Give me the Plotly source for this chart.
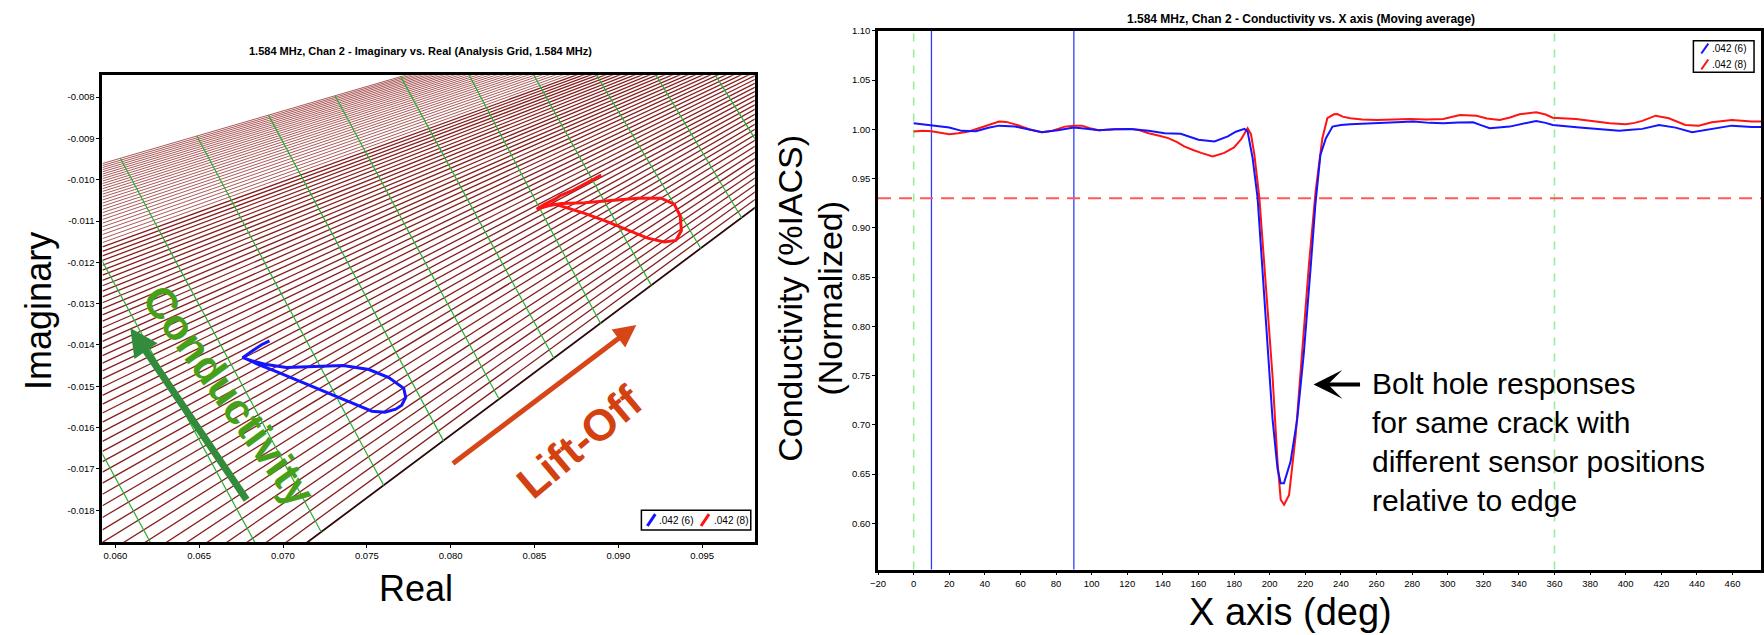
import plotly.graph_objects as go

W, H = 1764, 635

# ---------------- data ----------------
left_xticks = [0.060, 0.065, 0.070, 0.075, 0.080, 0.085, 0.090, 0.095]
left_xlabels = ["0.060", "0.065", "0.070", "0.075", "0.080", "0.085", "0.090", "0.095"]
left_yticks = [-0.008, -0.009, -0.010, -0.011, -0.012, -0.013, -0.014, -0.015, -0.016, -0.017, -0.018]
left_ylabels = ["-0.008", "-0.009", "-0.010", "-0.011", "-0.012", "-0.013", "-0.014", "-0.015",
                "-0.016", "-0.017", "-0.018"]

right_xticks = [-20, 0, 20, 40, 60, 80, 100, 120, 140, 160, 180, 200, 220, 240, 260, 280, 300,
                320, 340, 360, 380, 400, 420, 440, 460]
right_yticks = [0.55, 0.60, 0.65, 0.70, 0.75, 0.80, 0.85, 0.90, 0.95, 1.00, 1.05, 1.10]
right_ylabels = ["0.55", "0.60", "0.65", "0.70", "0.75", "0.80", "0.85", "0.90", "0.95", "1.00",
                 "1.05", "1.10"]

# analysis grid: conductivity lines (imag value at left edge), all meeting at the grid focus
grid_left_real = 0.05923
grid_focus_real = 0.12880
grid_focus_imag = -0.001381
cond_line_imag_dense = [
    -0.009607, -0.009655, -0.009704, -0.009755, -0.009807, -0.009861, -0.009916, -0.009973,
    -0.010031, -0.010092, -0.010153, -0.010217, -0.010283, -0.010350, -0.010417, -0.010490,
    -0.010564, -0.010639, -0.010717, -0.010797, -0.010879, -0.010961, -0.011050, -0.011139,
    -0.011232, -0.011326, -0.011424, -0.011521,
]
cond_line_imag = [
    -0.011627, -0.011733, -0.011842, -0.011952,
    -0.012070, -0.012187, -0.012309, -0.012437, -0.012566, -0.012698, -0.012836, -0.012977,
    -0.013120, -0.013271, -0.013424, -0.013583, -0.013743, -0.013912, -0.014083, -0.014259,
    -0.014441, -0.014627, -0.014820, -0.015018, -0.015222, -0.015431, -0.015647, -0.015869,
    -0.016098, -0.016332, -0.016574, -0.016823, -0.017079, -0.017343, -0.017613, -0.017892,
    -0.018178, -0.018476, -0.018777, -0.019103, -0.019439, -0.019787, -0.020134, -0.020494,
    -0.020854, -0.021237, -0.021621, -0.022029,
]
cond_boundary_imag = -0.022484

# lift-off lines (start / end points)
liftoff_real_a = [0.057153, 0.056489, 0.060297, 0.064864, 0.069134, 0.073108, 0.077023, 0.080605,
                  0.083897, 0.087005, 0.090030, 0.092960]
liftoff_imag_a = [-0.015086, -0.009930, -0.009480, -0.008940, -0.008436, -0.007966, -0.007504,
                  -0.007082, -0.006691, -0.006324, -0.005966, -0.005628]
liftoff_real_b = [0.063084, 0.069229, 0.072278, 0.076014, 0.079573, 0.082894, 0.086157, 0.088944,
                  0.091969, 0.094935, 0.097367, 0.099917]
liftoff_imag_b = [-0.019523, -0.019458, -0.018528, -0.017400, -0.016321, -0.015314, -0.014321,
                  -0.013482, -0.012556, -0.011669, -0.010926, -0.010153]

# impedance-plane traces
blue_real = [0.069193, 0.068719, 0.068185, 0.067592, 0.068126, 0.069015, 0.070202, 0.071566,
             0.073582, 0.075125, 0.076311, 0.077200, 0.077319, 0.077082, 0.076726, 0.076074,
             0.075302, 0.073998, 0.072159, 0.070795, 0.069609, 0.068541, 0.067889, 0.067651]
blue_imag = [-0.013899, -0.013995, -0.014139, -0.014307, -0.014379, -0.014475, -0.014547, -0.014523,
             -0.014499, -0.014595, -0.014787, -0.015050, -0.015266, -0.015458, -0.015554, -0.015626,
             -0.015602, -0.015386, -0.015074, -0.014835, -0.014643, -0.014475, -0.014355, -0.014307]
red_real = [0.088986, 0.087995, 0.087206, 0.086512, 0.086216, 0.085623, 0.085130, 0.085819,
            0.086613, 0.087995, 0.089579, 0.091157, 0.092544, 0.093333, 0.093689, 0.093766,
            0.093434, 0.092740, 0.091750, 0.090563, 0.089181, 0.087995, 0.087005, 0.086216, 0.085623]
red_imag = [-0.009887, -0.010110, -0.010271, -0.010391, -0.010470, -0.010590, -0.010710, -0.010631,
            -0.010573, -0.010559, -0.010511, -0.010446, -0.010446, -0.010590, -0.010870, -0.011230,
            -0.011470, -0.011508, -0.011412, -0.011213, -0.010990, -0.010813, -0.010686, -0.010590,
            -0.010655]

# conductivity vs angle
blue_deg = [0, 5, 10, 20, 27, 35, 42, 48, 57, 65, 72, 81, 90, 97, 104, 113, 122, 132, 141, 150, 155,
            160, 169, 176.5, 181, 185.8, 187.6, 190.4, 193.2, 196, 198.8, 201.6, 204.4, 206.2, 208,
            211.7, 215.5, 219.2, 222.9, 225.7, 228.5, 231.6, 235.3, 240, 245.3, 260.2, 270, 280.7,
            290, 297.5, 306, 314.3, 319, 323.6, 334.8, 343, 349.7, 355, 359, 374, 385.2, 396.4,
            403, 409.3, 418.7, 428, 437.3, 444.8, 452, 459.6, 470.8, 476]
blue_cond = [1.0061, 1.0050, 1.0035, 1.0017, 0.9984, 0.9980, 1.0015, 1.0037, 1.0027, 0.9995,
             0.9970, 0.9990, 1.0017, 1.0005, 0.9990, 1.0000, 1.0004, 0.9984, 0.9960, 0.9955,
             0.9925, 0.9893, 0.9877, 0.9927, 0.9975, 1.0004, 0.9977, 0.9710, 0.9307, 0.8570,
             0.7730, 0.7060, 0.6556, 0.6406, 0.6406, 0.6624, 0.7060, 0.7730, 0.8570, 0.9240,
             0.9740, 0.9910, 1.0027, 1.0044, 1.0051, 1.0061, 1.0070, 1.0078, 1.0065, 1.0061,
             1.0068, 1.0071, 1.0040, 1.0011, 1.0027, 1.0060, 1.0085, 1.0065, 1.0044, 1.0017,
             1.0004, 0.9984, 0.9995, 1.0004, 1.0044, 1.0017, 0.9970, 0.9990, 1.0015, 1.0037,
             1.0024, 1.0024]
red_deg = [0, 5, 10, 15, 20, 25, 31, 40, 48, 52, 57, 65, 72, 78, 85, 90, 94.5, 99, 104, 113, 122,
           127, 132, 138, 143, 148, 152, 157, 161.5, 168, 174.5, 180, 184, 187.6, 189.5, 191.4,
           194.2, 197.9, 201.6, 204.4, 206.2, 208.1, 210.9, 214.6, 218.4, 222.1, 225.8, 229.6,
           232.4, 236.1, 238, 241, 245.3, 252, 260.2, 270, 278.8, 288, 297.5, 306.9, 316.2, 322,
           329.2, 335, 340.4, 349.7, 355, 359, 365, 372, 381, 391, 400, 405, 409.3, 416.8, 424.2,
           433.5, 441, 448.4, 459.6, 470.8, 476]
red_cond = [0.9977, 0.9985, 0.9980, 0.9965, 0.9950, 0.9960, 0.9977, 1.0030, 1.0078, 1.0075,
            1.0050, 1.0000, 0.9970, 0.9985, 1.0027, 1.0035, 1.0037, 1.0010, 0.9990, 1.0000,
            1.0004, 0.9990, 0.9960, 0.9935, 0.9910, 0.9870, 0.9826, 0.9790, 0.9760, 0.9725,
            0.9760, 0.9816, 0.9900, 1.0010, 0.9950, 0.9742, 0.9307, 0.8400, 0.7496, 0.6624,
            0.6240, 0.6188, 0.6289, 0.6892, 0.7798, 0.8636, 0.9370, 0.9910, 1.0112, 1.0152,
            1.0155, 1.0128, 1.0112, 1.0100, 1.0095, 1.0100, 1.0105, 1.0100, 1.0105, 1.0145,
            1.0138, 1.0110, 1.0095, 1.0120, 1.0152, 1.0172, 1.0150, 1.0118, 1.0110, 1.0105,
            1.0085, 1.0061, 1.0051, 1.0065, 1.0085, 1.0138, 1.0112, 1.0044, 1.0037, 1.0071,
            1.0095, 1.0078, 1.0078]

green_marker_deg = [0, 360]
blue_marker_deg = [10, 90]
threshold_cond = 0.93

legend_names = [".042 (6)", ".042 (8)"]

# ---------------- figure ----------------
FONT = "Liberation Sans, Arial, sans-serif"


def px(x):
    return x / W


def py(y):
    return 1 - y / H


fig = go.Figure()


def grid_trace(values, color, width):
    gx, gy = [], []
    for v in values:
        gx += [grid_left_real, grid_focus_real, None]
        gy += [v, grid_focus_imag, None]
    return go.Scatter(x=gx, y=gy, mode="lines", line=dict(color=color, width=width),
                      hoverinfo="skip", xaxis="x", yaxis="y")


# conductivity grid lines
fig.add_trace(grid_trace(cond_line_imag_dense, "rgb(150,45,45)", 0.8))
fig.add_trace(grid_trace(cond_line_imag, "rgb(135,30,30)", 1.3))
fig.add_trace(go.Scatter(x=[grid_left_real, grid_focus_real], y=[cond_boundary_imag, grid_focus_imag],
                         mode="lines", line=dict(color="rgb(45,8,8)", width=1.8),
                         hoverinfo="skip", xaxis="x", yaxis="y"))
# lift-off lines
lx, ly = [], []
for a, b, c, d in zip(liftoff_real_a, liftoff_imag_a, liftoff_real_b, liftoff_imag_b):
    lx += [a, c, None]
    ly += [b, d, None]
fig.add_trace(go.Scatter(x=lx, y=ly, mode="lines", line=dict(color="rgb(40,175,50)", width=1.2),
                         hoverinfo="skip", xaxis="x", yaxis="y"))
# loops
fig.add_trace(go.Scatter(x=blue_real, y=blue_imag, mode="lines", name=legend_names[0],
                         line=dict(color="rgb(20,20,255)", width=3), xaxis="x", yaxis="y"))
fig.add_trace(go.Scatter(x=red_real, y=red_imag, mode="lines", name=legend_names[1],
                         line=dict(color="rgb(255,20,20)", width=3), xaxis="x", yaxis="y"))

# right plot curves
fig.add_trace(go.Scatter(x=red_deg, y=red_cond, mode="lines", name=legend_names[1],
                         line=dict(color="rgb(255,20,20)", width=2), xaxis="x2", yaxis="y2"))
fig.add_trace(go.Scatter(x=blue_deg, y=blue_cond, mode="lines", name=legend_names[0],
                         line=dict(color="rgb(20,20,255)", width=2), xaxis="x2", yaxis="y2"))

shapes = []
for d in green_marker_deg:
    shapes.append(dict(type="line", xref="x2", yref="y2 domain", x0=d, x1=d, y0=0, y1=1,
                       line=dict(color="rgb(150,235,150)", width=1.5, dash="8px,8px"), layer="below"))
for d in blue_marker_deg:
    shapes.append(dict(type="line", xref="x2", yref="y2 domain", x0=d, x1=d, y0=0, y1=1,
                       line=dict(color="rgb(50,60,255)", width=1.3), layer="below"))
shapes.append(dict(type="line", xref="x2 domain", yref="y2", x0=0, x1=1, y0=threshold_cond,
                   y1=threshold_cond, line=dict(color="rgb(255,90,90)", width=2, dash="13px,8px"),
                   layer="below"))

# legends (drawn boxes)
shapes.append(dict(type="rect", xref="paper", yref="paper", x0=px(637), x1=px(747), y0=py(529),
                   y1=py(509), line=dict(color="black", width=1.5), fillcolor="white"))
shapes.append(dict(type="line", xref="paper", yref="paper", x0=px(643), x1=px(651), y0=py(525),
                   y1=py(513), line=dict(color="rgb(20,20,255)", width=3)))
shapes.append(dict(type="line", xref="paper", yref="paper", x0=px(697), x1=px(705), y0=py(525),
                   y1=py(513), line=dict(color="rgb(255,20,20)", width=3)))
shapes.append(dict(type="rect", xref="paper", yref="paper", x0=px(1695), x1=px(1756), y0=py(67),
                   y1=py(35), line=dict(color="black", width=1.5), fillcolor="white"))
shapes.append(dict(type="line", xref="paper", yref="paper", x0=px(1703), x1=px(1710), y0=py(48),
                   y1=py(38), line=dict(color="rgb(20,20,255)", width=2)))
shapes.append(dict(type="line", xref="paper", yref="paper", x0=px(1703), x1=px(1710), y0=py(64),
                   y1=py(54), line=dict(color="rgb(255,20,20)", width=2)))

ann = []


def text(x, y, s, size, color="black", angle=0, bold=False, xanchor="center", align="center"):
    ann.append(dict(x=px(x), y=py(y), xref="paper", yref="paper", text=s, showarrow=False,
                    font=dict(family=FONT, size=size, color=color,
                              weight="bold" if bold else "normal"),
                    textangle=angle, xanchor=xanchor, yanchor="middle", align=align))


text(415, 45, "1.584 MHz, Chan 2 - Imaginary vs. Real (Analysis Grid, 1.584 MHz)", 11, bold=True)
text(1300, 13, "1.584 MHz, Chan 2 - Conductivity vs. X axis (Moving average)", 12, bold=True)
text(30, 308, "Imaginary", 36, angle=-90)
text(410, 588, "Real", 36)
text(1290, 612, "X axis (deg)", 38)
text(787, 295, "Conductivity (%IACS)", 34, angle=-90)
text(827, 295, "(Normalized)", 34, angle=-90)
text(1370, 440, "Bolt hole responses<br>for same crack with<br>different sensor positions<br>relative to edge",
     30, xanchor="left", align="left")
text(653, 519, legend_names[0], 10, xanchor="left")
text(708, 519, legend_names[1], 10, xanchor="left")
text(1712, 43, legend_names[0], 10, xanchor="left")
text(1712, 59, legend_names[1], 10, xanchor="left")

# black arrow
ann.append(dict(x=px(1313), y=py(382), xref="paper", yref="paper", ax=48, ay=0, text="",
                showarrow=True, arrowhead=3, arrowwidth=4, arrowsize=1.2, arrowcolor="black"))
# grid direction arrows (data coordinates of left plot)
ann.append(dict(x=0.060890, y=-0.013588, xref="x", yref="y", ax=0.067889, ay=-0.017784,
                axref="x", ayref="y", text="", showarrow=True, arrowhead=2, arrowwidth=7,
                arrowsize=0.8, arrowcolor="rgb(50,140,60)"))
ann.append(dict(x=0.091079, y=-0.013516, xref="x", yref="y", ax=0.080047, ay=-0.016897,
                axref="x", ayref="y", text="", showarrow=True, arrowhead=2, arrowwidth=5,
                arrowsize=0.9, arrowcolor="rgb(215,70,25)"))
ann.append(dict(x=0.066762, y=-0.015218, xref="x", yref="y", text="Conductivity", showarrow=False,
                textangle=54, font=dict(family=FONT, size=43, color="rgb(70,160,25)", weight="bold")))
ann.append(dict(x=0.087699, y=-0.016345, xref="x", yref="y", text="Lift-Off", showarrow=False,
                textangle=-40, font=dict(family=FONT, size=44, color="rgb(210,65,15)", weight="bold")))

axis_common = dict(showgrid=False, zeroline=False, showline=True, linecolor="black", mirror=True,
                   ticks="outside", ticklen=3, tickcolor="black",
                   tickfont=dict(family=FONT, size=9.5, color="black"))

fig.update_layout(
    width=W, height=H, margin=dict(l=0, r=0, t=0, b=0),
    paper_bgcolor="white", plot_bgcolor="white", showlegend=False,
    xaxis=dict(domain=[px(95), px(751)], range=[0.05923, 0.09814], tickvals=left_xticks,
               ticktext=left_xlabels, linewidth=3, anchor="y", **axis_common),
    yaxis=dict(domain=[py(541), py(70)], range=[-0.018767, -0.007472], tickvals=left_yticks,
               ticktext=left_ylabels, linewidth=3, anchor="x", **axis_common),
    xaxis2=dict(domain=[px(875), px(1763)], range=[-20, 476], tickvals=right_xticks,
                linewidth=2.5, anchor="y2", **axis_common),
    yaxis2=dict(domain=[py(569), py(25)], range=[0.553, 1.10], tickvals=right_yticks,
                ticktext=right_ylabels, linewidth=2.5, anchor="x2", **axis_common),
    shapes=shapes, annotations=ann,
)

fig.write_html("out.html", config={"displayModeBar": False},
               post_script="document.body.style.margin='0px';document.body.style.overflow='hidden';")
